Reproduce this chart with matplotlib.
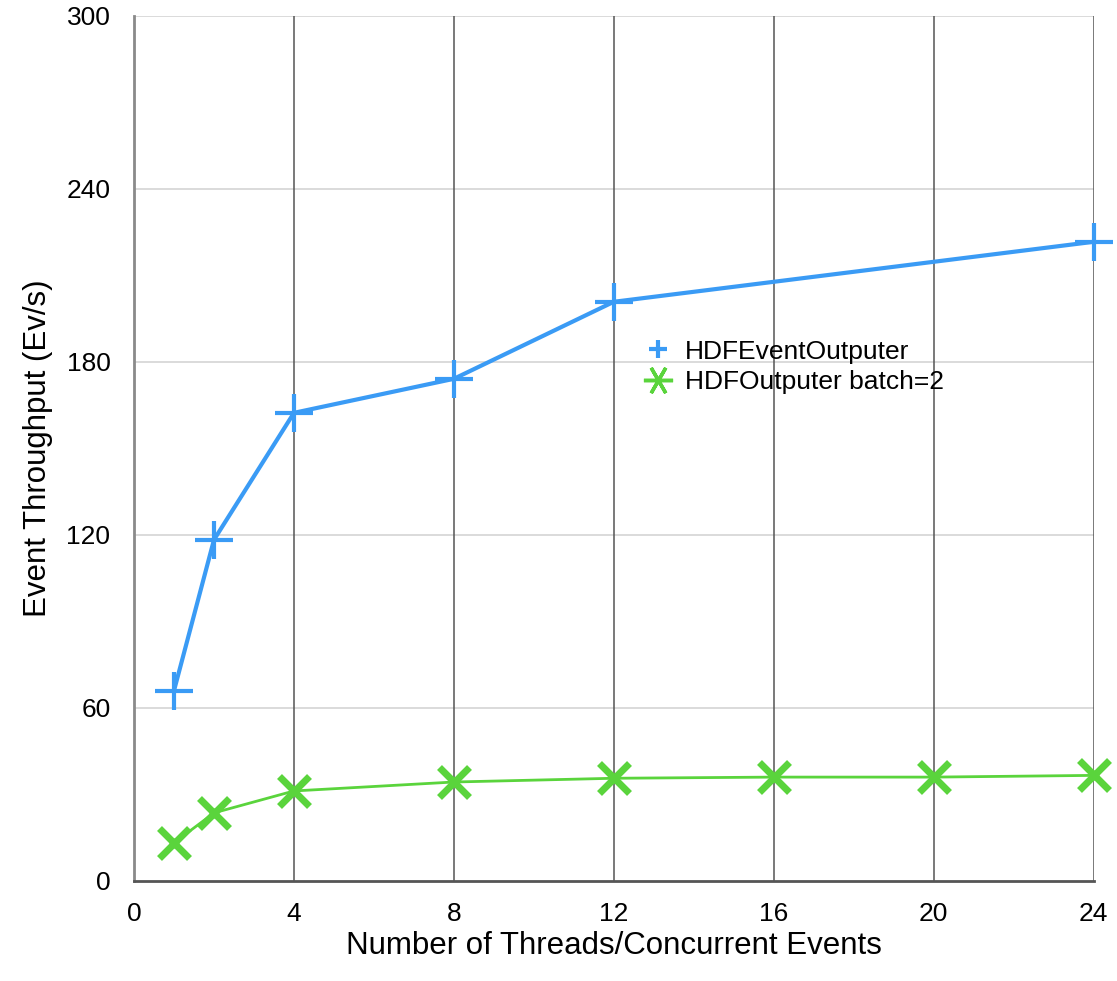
import matplotlib
matplotlib.use("Agg")
import matplotlib.pyplot as plt
from matplotlib.lines import Line2D

threads_blue = [1, 2, 4, 8, 12, 24]
hdf_event = [66, 118.3, 162.3, 174.1, 200.8, 221.6]
threads_green = [1, 2, 4, 8, 12, 16, 20, 24]
hdf_batch = [13.2, 23.6, 31.2, 34.3, 35.6, 36.0, 36.0, 36.6]
xticks = [0, 4, 8, 12, 16, 20, 24]
yticks = [0, 60, 120, 180, 240, 300]

plt.rcParams['font.family'] = ['Liberation Sans', 'DejaVu Sans']

fig = plt.figure(figsize=(11.17, 9.81), dpi=100)
ax = fig.add_axes([0.12, 0.102, 0.859, 0.882])

blue = '#3a9bf5'
green = '#5ad43c'

for y in yticks[1:]:
    ax.axhline(y, color='#d4d4d4', lw=1.2, zorder=1)
for x in xticks[1:]:
    ax.axvline(x, color='#555555', lw=1.1, zorder=1)

ax.plot(threads_blue, hdf_event, color=blue, lw=3, marker='+', ms=28, mew=3,
        zorder=3, clip_on=False)
ax.plot(threads_green, hdf_batch, color=green, lw=2, marker='x', ms=21, mew=5,
        zorder=3, clip_on=False)

ax.set_xlim(0, 24)
ax.set_ylim(0, 300)
ax.set_xticks(xticks)
ax.set_yticks(yticks)
ax.tick_params(length=0, labelsize=19)
ax.tick_params(axis='x', pad=15)
ax.tick_params(axis='y', pad=17)

for s in ['top', 'right']:
    ax.spines[s].set_visible(False)
ax.spines['left'].set_color('#8a8a8a')
ax.spines['left'].set_linewidth(2)
ax.spines['bottom'].set_color('#555555')
ax.spines['bottom'].set_linewidth(2)

ax.set_xlabel('Number of Threads/Concurrent Events', fontsize=22.5, labelpad=4)
ax.set_ylabel('Event Throughput (Ev/s)', fontsize=22.5, labelpad=10)

handles = [
    Line2D([], [], color=blue, lw=0, marker='+', ms=13, mew=3),
    Line2D([], [], color=green, lw=0, marker=(6, 2, 90), ms=21, mew=2.5),
]
ax.legend(handles, ['HDFEventOutputer', 'HDFOutputer batch=2'], frameon=False,
          fontsize=19, loc='center left', bbox_to_anchor=(0.53, 0.594),
          borderaxespad=0, borderpad=0,
          handletextpad=0.4, labelspacing=0.25, handlelength=1.2)

fig.savefig('out.png', dpi=100)
